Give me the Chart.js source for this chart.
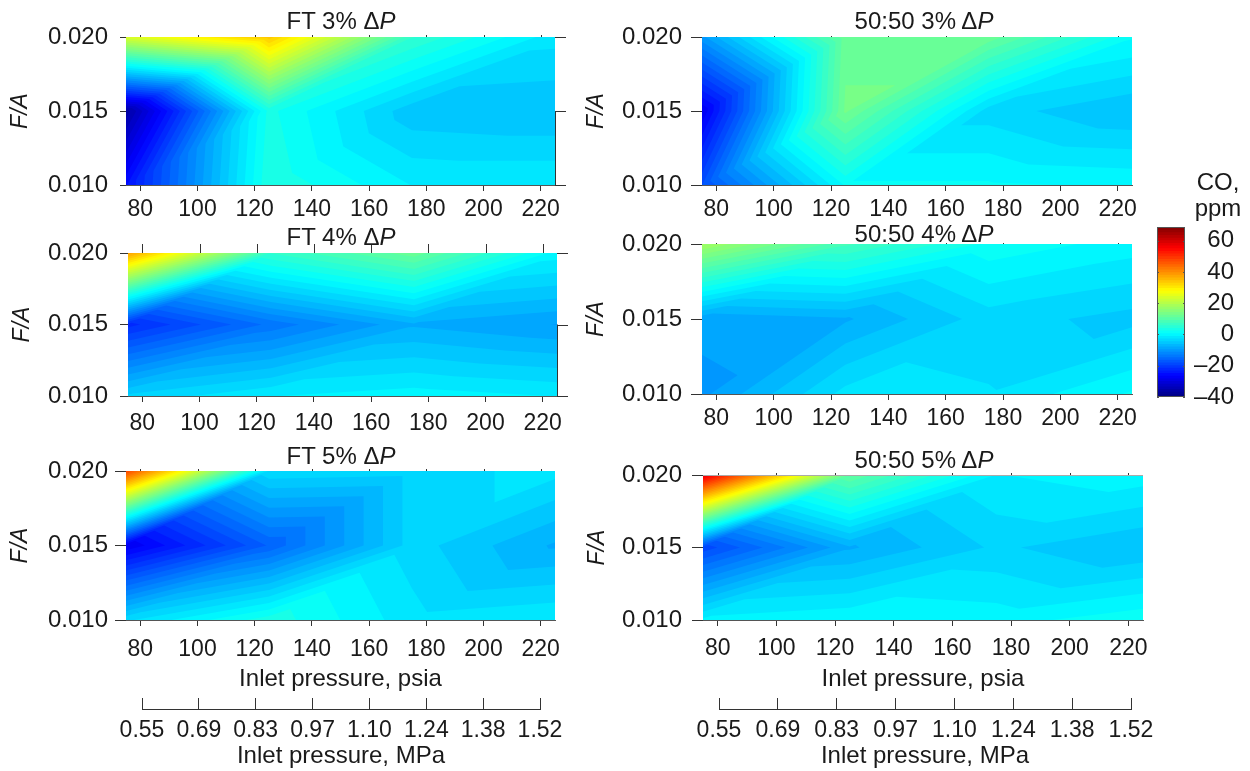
<!DOCTYPE html>
<html lang="en">
<head>
  <meta charset="UTF-8">
  <title>CO contour maps</title>
  <style>
    body {
      margin: 0;
      background: #fff;
      font-family: 'Liberation Sans', Arial, sans-serif;
      color: #1a1a1a;
    }

    #page {
      position: relative;
      width: 1250px;
      height: 771px;
      overflow: hidden;
    }

    canvas {
      position: absolute;
    }

    .label {
      position: absolute;
      font-size: 24px;
      line-height: 26px;
      white-space: nowrap;
      transform: translate(-50%, -50%);
    }
  </style>
</head>
<body>
  <div id="page"></div>

  <script src="https://cdn.jsdelivr.net/npm/chart.js"></script>
  <script>
    // measurement grid
    const pressures = [75, 125, 175, 225];
    const fuelAir = [0.010, 0.015, 0.020];

    // CO in ppm, one row per fuelAir value, one column per pressure
    const ft3 = [[-25, 4, -1, -1], [-36, 3, -5.5, -6], [24, 34, 6, -2]];
    const blend3 = [[-18, 1, 1, 0.5], [-28, 13, -3.5, -6], [-10, 12, 12, 1]];
    const ft4 = [[-4, -1, 0, -1], [-22, -14, -8, -9.5], [38, 6, 12, 0]];
    const blend4 = [[-9.9, -2, -2.5, 1], [-9, -8, -3.5, -5], [18, 8, 2, 0]];
    const ft5 = [[-3, 3.5, -2, -1], [-28, -16, -3.5, -8], [48, -3, -3.5, -2]];
    const blend5 = [[-0.5, 0.5, 0, 2], [-19, -8, -4, -6], [58, 11, -1, 0]];

    // axis ticks
    const psiTicks = [80, 100, 120, 140, 160, 180, 200, 220];
    const mpaTicks = ['0.55', '0.69', '0.83', '0.97', '1.10', '1.24', '1.38', '1.52'];
    const fuelAirTicks = [0.010, 0.015, 0.020];
    const colorTicks = [-40, -20, 0, 20, 40, 60];
    const colorRange = [-40, 68.7];

    const LEVELS = 64;
    const FONT = { family: "'Liberation Sans', Arial, sans-serif", size: 24 };
    const INK = '#1a1a1a';

    Chart.defaults.font.family = FONT.family;
    Chart.defaults.color = INK;
    Chart.defaults.animation = false;

    function jet(t) {
      const ramp = (c) => Math.round(255 * Math.max(0, Math.min(1, 1.5 - Math.abs(4 * t - c))));
      return `rgb(${ramp(3)},${ramp(2)},${ramp(1)})`;
    }

    // keep the part of a triangle where the value is at least level
    function clipAbove(tri, level) {
      const out = [];
      tri.forEach((p, i) => {
        const q = tri[(i + 1) % 3];
        if (p.v >= level) out.push(p);
        if ((p.v >= level) !== (q.v >= level)) {
          const t = (level - p.v) / (q.v - p.v);
          out.push({ px: p.px + t * (q.px - p.px), py: p.py + t * (q.py - p.py), v: level });
        }
      });
      return out;
    }

    // scales reserve room for their end labels, the panels are placed by hand instead
    function fixSize(s, size) {
      if (s.isHorizontal()) s.height = size;
      else s.width = size;
      s.paddingTop = s.paddingBottom = s.paddingLeft = s.paddingRight = 0;
    }

    // filled contours on the triangulated grid, painted from the lowest level up
    const contourPlugin = {
      id: 'contour',
      beforeDatasetsDraw(chart) {
        const dataset = chart.data.datasets[0];
        if (!dataset.data.length) return;
        const columns = dataset.columns;
        const pts = dataset.data.map(d => ({
          px: chart.scales.x.getPixelForValue(d.x),
          py: chart.scales.y.getPixelForValue(d.y),
          v: d.v
        }));
        const triangles = [];
        for (let r = 0; r < pts.length / columns - 1; r++) {
          for (let c = 0; c < columns - 1; c++) {
            const a = pts[r * columns + c];
            const b = pts[r * columns + c + 1];
            const d = pts[(r + 1) * columns + c];
            const e = pts[(r + 1) * columns + c + 1];
            triangles.push([a, b, e], [a, e, d]);
          }
        }
        const ctx = chart.ctx;
        const step = (colorRange[1] - colorRange[0]) / LEVELS;
        for (let i = 0; i < LEVELS; i++) {
          const level = i === 0 ? -Infinity : colorRange[0] + i * step;
          ctx.beginPath();
          triangles.forEach(tri => {
            const poly = i === 0 ? tri : clipAbove(tri, level);
            poly.forEach((p, k) => k ? ctx.lineTo(p.px, p.py) : ctx.moveTo(p.px, p.py));
            ctx.closePath();
          });
          ctx.fillStyle = jet((i + 0.5) / LEVELS);
          ctx.fill();
        }
      }
    };

    // the small extra marks along the top and right of a panel
    const framePlugin = {
      id: 'frame',
      afterDraw(chart, args, opts) {
        if (!opts.enabled) return;
        const { ctx, chartArea: area, scales: { x, y } } = chart;
        ctx.save();
        ctx.strokeStyle = '#333';
        ctx.lineWidth = 1;
        ctx.beginPath();
        psiTicks.forEach(v => {
          const px = Math.round(x.getPixelForValue(v)) + 0.5;
          ctx.moveTo(px, area.top);
          ctx.lineTo(px, area.top - opts.topTick);
        });
        if (opts.rightTick) {
          fuelAirTicks.forEach(v => {
            const py = Math.round(y.getPixelForValue(v)) + 0.5;
            ctx.moveTo(area.right, py);
            ctx.lineTo(area.right + opts.rightTick, py);
          });
          ctx.moveTo(area.right + 0.5, y.getPixelForValue(fuelAirTicks[0]));
          ctx.lineTo(area.right + 0.5, y.getPixelForValue(fuelAirTicks[1]));
        }
        ctx.stroke();
        if (opts.topLine) {
          ctx.strokeStyle = '#aaa';
          ctx.beginPath();
          ctx.moveTo(area.left, area.top + 0.5);
          ctx.lineTo(area.right, area.top + 0.5);
          ctx.stroke();
        }
        ctx.restore();
      }
    };

    const colorbarFrame = {
      id: 'colorbarFrame',
      afterDraw(chart, args, opts) {
        if (!opts.enabled) return;
        const { ctx, chartArea: area, scales: { y } } = chart;
        ctx.save();
        ctx.strokeStyle = '#555';
        ctx.lineWidth = 1;
        ctx.strokeRect(area.left + 0.5, area.top + 0.5, area.width - 1, area.height - 1);
        ctx.beginPath();
        colorTicks.forEach(v => {
          const py = Math.round(y.getPixelForValue(v)) + 0.5;
          ctx.moveTo(area.left, py);
          ctx.lineTo(area.left + 2, py);
          ctx.moveTo(area.right, py);
          ctx.lineTo(area.right - 2, py);
        });
        ctx.stroke();
        ctx.restore();
      }
    };

    Chart.register(contourPlugin, framePlugin, colorbarFrame);

    const page = document.getElementById('page');

    function addCanvas(left, top, width, height) {
      const canvas = document.createElement('canvas');
      canvas.width = width;
      canvas.height = height;
      canvas.style.left = left + 'px';
      canvas.style.top = top + 'px';
      canvas.style.width = width + 'px';
      canvas.style.height = height + 'px';
      page.appendChild(canvas);
      return canvas;
    }

    function addLabel(html, x, y) {
      const div = document.createElement('div');
      div.className = 'label';
      div.innerHTML = html;
      div.style.left = x + 'px';
      div.style.top = y + 'px';
      page.appendChild(div);
    }

    function meshPoints(xs, ys, rows) {
      const out = [];
      ys.forEach((y, r) => xs.forEach((x, c) => out.push({ x: x, y: y, v: rows[r][c] })));
      return out;
    }

    function addPanel(values, p) {
      const yWidth = 119;
      const padTop = 20;
      const padRight = 30;
      const xHeight = p.bottomTitle ? 74 : 36;
      const canvas = addCanvas(p.left - yWidth, p.top - padTop, yWidth + p.width + padRight, padTop + p.height + xHeight);
      new Chart(canvas, {
        type: 'scatter',
        data: {
          datasets: [{
            data: meshPoints(pressures, fuelAir, values),
            columns: pressures.length,
            pointRadius: 0
          }]
        },
        options: {
          responsive: false,
          maintainAspectRatio: false,
          devicePixelRatio: 1,
          layout: { autoPadding: false, padding: { top: padTop, right: padRight } },
          plugins: {
            legend: { display: false },
            tooltip: { enabled: false },
            frame: { enabled: true, topTick: p.topTick, rightTick: p.rightTick, topLine: p.topLine }
          },
          scales: {
            x: {
              type: 'linear',
              min: pressures[0],
              max: pressures[pressures.length - 1],
              afterBuildTicks: s => { s.ticks = psiTicks.map(v => ({ value: v })); },
              afterFit: s => fixSize(s, xHeight),
              border: { color: '#555', dash: [1, 2] },
              grid: { drawOnChartArea: false, tickLength: 6, tickColor: '#333' },
              ticks: { font: { size: 23 }, padding: p.xPad, maxRotation: 0, autoSkip: false },
              title: {
                display: !!p.bottomTitle,
                text: 'Inlet pressure, psia',
                font: { size: FONT.size },
                padding: 0
              }
            },
            y: {
              type: 'linear',
              min: fuelAir[0],
              max: fuelAir[fuelAir.length - 1],
              afterBuildTicks: s => { s.ticks = fuelAirTicks.map(v => ({ value: v })); },
              afterFit: s => fixSize(s, yWidth),
              border: { display: false },
              grid: { drawOnChartArea: false, tickLength: p.yTick, tickColor: '#333' },
              ticks: {
                font: { size: FONT.size },
                padding: p.yPad,
                callback: v => v.toFixed(3)
              },
              title: {
                display: true,
                text: 'F/A',
                font: { size: 23, style: 'italic' },
                padding: 0
              }
            }
          }
        }
      });
      addLabel(p.title + ' \u0394<i>P</i>', p.titleX, p.titleY);
    }

    // second axis under the bottom panels, same psi positions with MPa labels
    function addMpaAxis(left, width) {
      const pad = 40;
      const canvas = addCanvas(left - pad, 698, width + 2 * pad, 73);
      new Chart(canvas, {
        type: 'scatter',
        data: { datasets: [{ data: [] }] },
        options: {
          responsive: false,
          maintainAspectRatio: false,
          devicePixelRatio: 1,
          layout: { autoPadding: false, padding: { left: pad, right: pad } },
          plugins: { legend: { display: false }, tooltip: { enabled: false } },
          scales: {
            x: {
              type: 'linear',
              min: psiTicks[0],
              max: psiTicks[psiTicks.length - 1],
              afterBuildTicks: s => { s.ticks = psiTicks.map(v => ({ value: v })); },
              afterFit: s => fixSize(s, 62),
              border: { color: '#333' },
              grid: { color: '#333', drawTicks: false, tickLength: 0 },
              ticks: {
                font: { size: 23 },
                padding: 8,
                maxRotation: 0,
                autoSkip: false,
                callback: (v, i) => mpaTicks[i]
              },
              title: {
                display: true,
                text: 'Inlet pressure, MPa',
                font: { size: FONT.size },
                padding: 0
              }
            },
            y: { display: false, min: 0, max: 1 }
          }
        }
      });
    }

    function addColorbar() {
      const canvas = addCanvas(1157, 218, 93, 190);
      new Chart(canvas, {
        type: 'scatter',
        data: {
          datasets: [{
            data: meshPoints([0, 1], colorRange, [[colorRange[0], colorRange[0]], [colorRange[1], colorRange[1]]]),
            columns: 2,
            pointRadius: 0
          }]
        },
        options: {
          responsive: false,
          maintainAspectRatio: false,
          devicePixelRatio: 1,
          layout: { autoPadding: false, padding: { top: 9, bottom: 11, right: 16 } },
          plugins: { legend: { display: false }, tooltip: { enabled: false }, colorbarFrame: { enabled: true } },
          scales: {
            x: { display: false, type: 'linear', min: 0, max: 1 },
            y: {
              type: 'linear',
              position: 'right',
              min: colorRange[0],
              max: colorRange[1],
              afterBuildTicks: s => { s.ticks = colorTicks.map(v => ({ value: v })); },
              afterFit: s => fixSize(s, 49),
              border: { display: false },
              grid: { drawOnChartArea: false, drawTicks: false, tickLength: 0 },
              ticks: {
                font: { size: FONT.size },
                padding: 4,
                autoSkip: false,
                crossAlign: 'far',
                callback: v => v < 0 ? '\u2013' + Math.abs(v) : String(v)
              }
            }
          }
        }
      });
      addLabel('CO,', 1218, 182);
      addLabel('ppm', 1218, 208);
    }

    addPanel(ft3, { left: 126, top: 37, width: 429, height: 148, title: 'FT 3%', titleX: 341, titleY: 21, topTick: 2, rightTick: 11, yTick: 6, yPad: 12, xPad: 5 });
    addPanel(blend3, { left: 702, top: 37, width: 430, height: 148, title: '50:50 3%', titleX: 924, titleY: 21, topTick: 1, rightTick: 0, yTick: 11, yPad: 9, xPad: 5 });
    addPanel(ft4, { left: 128, top: 253, width: 429, height: 143, title: 'FT 4%', titleX: 341, titleY: 237, topTick: 9, rightTick: 11, yTick: 8, yPad: 12, xPad: 8 });
    addPanel(blend4, { left: 702, top: 244, width: 430, height: 150, title: '50:50 4%', titleX: 924, titleY: 234, topTick: 1, rightTick: 0, yTick: 11, yPad: 9, xPad: 5 });
    addPanel(ft5, { left: 126, top: 471, width: 429, height: 149, title: 'FT 5%', titleX: 341, titleY: 456, topTick: 2, rightTick: 0, yTick: 11, yPad: 7, xPad: 10, bottomTitle: true });
    addPanel(blend5, { left: 703, top: 475, width: 440, height: 145, title: '50:50 5%', titleX: 924, titleY: 460, topTick: 2, rightTick: 0, yTick: 11, yPad: 10, xPad: 9, bottomTitle: true, topLine: true });

    addMpaAxis(142, 398);
    addMpaAxis(719, 412);
    addColorbar();
  </script>
</body>
</html>
